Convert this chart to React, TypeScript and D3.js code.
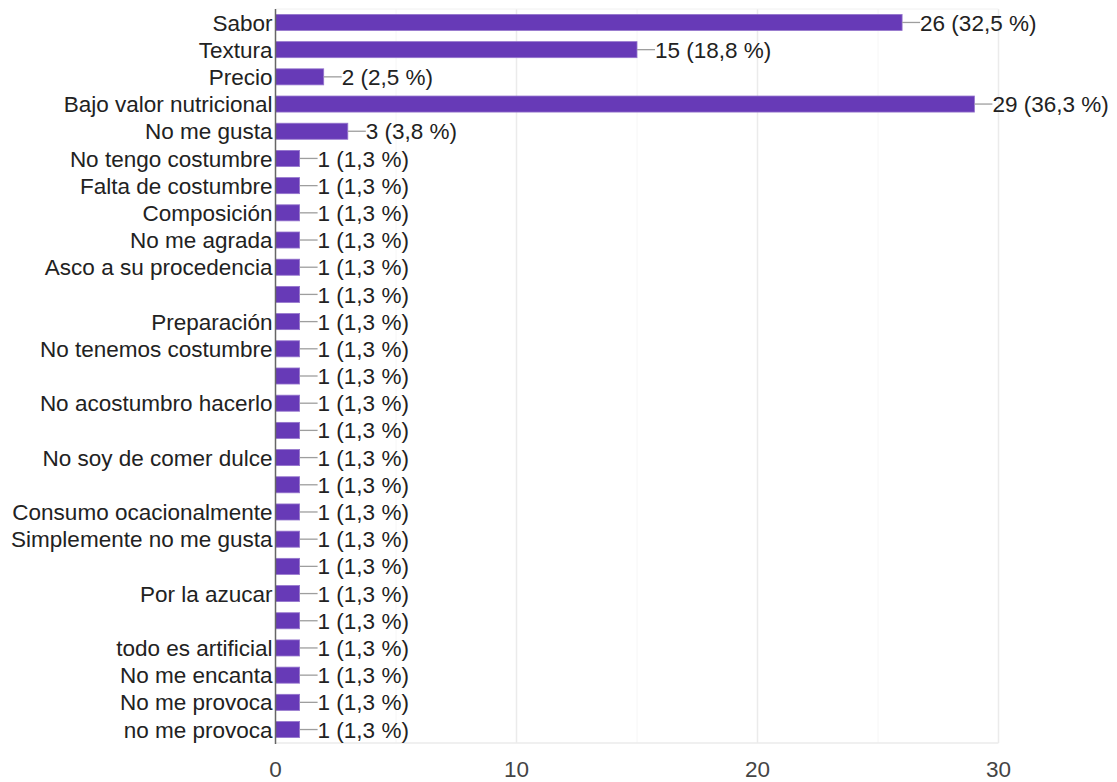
import React from "react";
import * as d3 from "d3";

const categories: string[] = [
  "Sabor",
  "Textura",
  "Precio",
  "Bajo valor nutricional",
  "No me gusta",
  "No tengo costumbre",
  "Falta de costumbre",
  "Composición",
  "No me agrada",
  "Asco a su procedencia",
  "",
  "Preparación",
  "No tenemos costumbre",
  "",
  "No acostumbro hacerlo",
  "",
  "No soy de comer dulce",
  "",
  "Consumo ocacionalmente",
  "Simplemente no me gusta",
  "",
  "Por la azucar",
  "",
  "todo es artificial",
  "No me encanta",
  "No me provoca",
  "no me provoca",
];

const counts: number[] = [26, 15, 2, 29, 3, 1, 1, 1, 1, 1, 1, 1, 1, 1, 1, 1, 1, 1, 1, 1, 1, 1, 1, 1, 1, 1, 1];

const percents: string[] = [
  "32,5", "18,8", "2,5", "36,3", "3,8",
  "1,3", "1,3", "1,3", "1,3", "1,3", "1,3", "1,3", "1,3", "1,3", "1,3", "1,3",
  "1,3", "1,3", "1,3", "1,3", "1,3", "1,3", "1,3", "1,3", "1,3", "1,3", "1,3",
];

const majorTicks: number[] = [0, 10, 20, 30];
const minorTicks: number[] = [5, 15, 25];

const W = 1117;
const H = 782;
const left = 275.5;
const right = 998.5;
const top = 9;
const bottom = 743;
const FONT = "Arial, 'Liberation Sans', sans-serif";
const FS = 22.5;

export default function App() {
  const x = d3.scaleLinear().domain([0, 30]).range([left, right]);
  const y = d3
    .scaleBand<number>()
    .domain(categories.map((_, i) => i))
    .range([top, bottom])
    .paddingInner(0.41)
    .paddingOuter(0.2);
  const bw = y.bandwidth();

  return (
    <svg
      width={W}
      height={H}
      style={{ position: "absolute", left: 0, top: 0, background: "#fff" }}
      fontFamily={FONT}
    >
      {/* grid */}
      {minorTicks.map((t) => (
        <line key={"m" + t} x1={x(t)} x2={x(t)} y1={top} y2={bottom} stroke="#f6f6f6" strokeWidth={1} />
      ))}
      {majorTicks.slice(1).map((t) => (
        <line key={"g" + t} x1={x(t)} x2={x(t)} y1={top} y2={bottom} stroke="#ebebeb" strokeWidth={1.5} />
      ))}
      <line x1={left} x2={right} y1={top} y2={top} stroke="#f0f0f0" strokeWidth={1} />
      <line x1={left} x2={right} y1={bottom} y2={bottom} stroke="#ebebeb" strokeWidth={1.5} />

      {/* bars, leaders and value labels */}
      {counts.map((v, i) => {
        const yc = (y(i) as number) + bw / 2;
        const xe = x(v);
        return (
          <g key={i}>
            <rect
              x={x(0)}
              y={y(i) as number}
              width={xe - x(0)}
              height={bw}
              fill="#673ab7"
              stroke="#9575cd"
              strokeWidth={0.8}
            />
            <line x1={xe} x2={xe + 18} y1={yc} y2={yc} stroke="#9e9e9e" strokeWidth={1.3} />
            <text x={xe + 18} y={yc} dy="0.36em" fontSize={FS} fill="#222">
              {`${v} (${percents[i]} %)`}
            </text>
            {categories[i] && (
              <text x={left - 3} y={yc} dy="0.36em" fontSize={FS} fill="#222" textAnchor="end">
                {categories[i]}
              </text>
            )}
          </g>
        );
      })}

      {/* zero axis */}
      <line x1={left} x2={left} y1={top} y2={bottom + 1} stroke="#666" strokeWidth={1.5} />

      {/* x tick labels */}
      {majorTicks.map((t) => (
        <text key={"t" + t} x={x(t)} y={777} fontSize={FS} fill="#444" textAnchor="middle">
          {t}
        </text>
      ))}
    </svg>
  );
}
